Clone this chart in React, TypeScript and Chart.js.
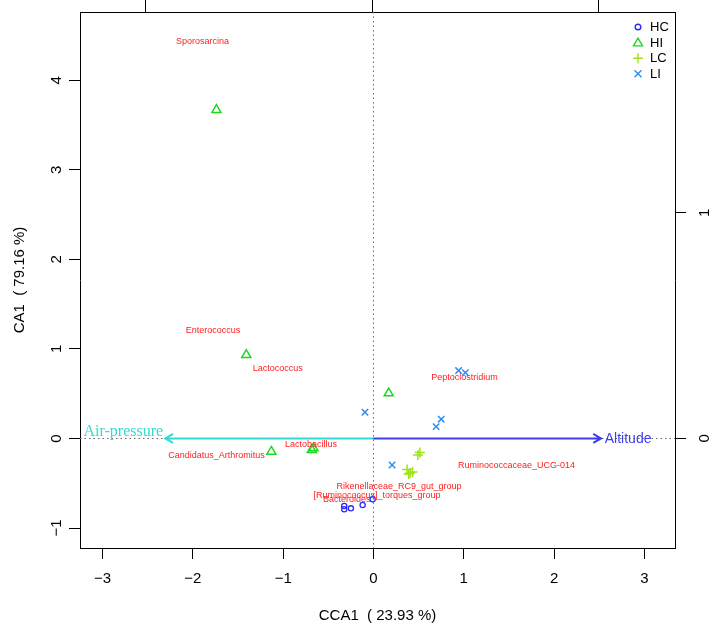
import React, { useEffect, useRef } from 'react';
import { Chart, registerables } from 'chart.js';
Chart.register(...registerables);

// ---- data ----
const groupNames = ['HC', 'HI', 'LC', 'LI'];
const hcX = [-0.324, -0.324, -0.25, -0.12, -0.009];
const hcY = [-0.754, -0.791, -0.78, -0.743, -0.679];
const hiX = [-1.739, -1.409, -1.131, -0.683, -0.664, 0.169];
const hiY = [3.67, 0.933, -0.147, -0.128, -0.109, 0.505];
const lcX = [0.514, 0.492, 0.372, 0.406, 0.433, 0.389];
const lcY = [-0.156, -0.184, -0.346, -0.385, -0.374, -0.397];
const liX = [-0.094, 0.942, 1.017, 0.75, 0.694, 0.206];
const liY = [0.293, 0.758, 0.735, 0.215, 0.132, -0.296];

const speciesNames = [
  'Sporosarcina', 'Enterococcus', 'Lactococcus', 'Peptoclostridium', 'Lactobacillus',
  'Candidatus_Arthromitus', 'Ruminococcaceae_UCG-014', 'Rikenellaceae_RC9_gut_group',
  '[Ruminococcus]_torques_group', 'Bacteroides',
];
const speciesX = [-1.894, -1.778, -1.061, 1.009, -0.691, -1.739, 1.583, 0.283, 0.04, -0.297];
const speciesY = [4.434, 1.201, 0.78, 0.679, -0.073, -0.192, -0.307, -0.539, -0.642, -0.687];

const envNames = ['Air-pressure', 'Altitude'];
const envArrowX = [-2.306, 2.52];
const envArrowY = [0, 0];
const envLabelX = [-2.77, 2.82];
const envLabelY = [0.07, -0.01];

const xTicks = [-3, -2, -1, 0, 1, 2, 3];
const yTicks = [-1, 0, 1, 2, 3, 4];
const topTicks = [-1, 0, 1];
const rightTicks = [0, 1];

const xLabel = 'CCA1  ( 23.93 %)';
const yLabel = 'CA1  ( 79.16 %)';

// ---- styles ----
const SANS = "'Liberation Sans', Arial, Helvetica, sans-serif";
const SERIF = "'Liberation Serif', 'Times New Roman', serif";
const groupColors = ['#2b2bff', '#1ed81e', '#9ee31a', '#2f8cf2'];
const envColors = ['#33dbd4', '#3d3df2'];
const speciesColor = '#ff2020';

const zip = (xs: number[], ys: number[]) => xs.map((x, i) => ({ x, y: ys[i] }));
const lab = (v: any) => String(v).replace('-', '\u2212');

function drawSymbol(ctx: CanvasRenderingContext2D, g: number, x: number, y: number) {
  ctx.save();
  ctx.strokeStyle = groupColors[g];
  ctx.lineWidth = 1.4;
  ctx.beginPath();
  if (g === 0) {
    ctx.arc(x, y, 2.8, 0, Math.PI * 2);
  } else if (g === 1) {
    ctx.moveTo(x, y - 4.5);
    ctx.lineTo(x + 4.5, y + 3.3);
    ctx.lineTo(x - 4.5, y + 3.3);
    ctx.closePath();
  } else if (g === 2) {
    ctx.moveTo(x - 5, y); ctx.lineTo(x + 5, y);
    ctx.moveTo(x, y - 5); ctx.lineTo(x, y + 5);
  } else {
    ctx.moveTo(x - 3.5, y - 3.5); ctx.lineTo(x + 3.5, y + 3.5);
    ctx.moveTo(x + 3.5, y - 3.5); ctx.lineTo(x - 3.5, y + 3.5);
  }
  ctx.stroke();
  ctx.restore();
}

const overlay = {
  id: 'overlay',
  beforeDatasetsDraw(chart: any) {
    const { ctx, chartArea: a, scales } = chart;
    const xs = scales.x, ys = scales.y;
    const x0 = xs.getPixelForValue(0), y0 = ys.getPixelForValue(0);
    ctx.save();
    ctx.strokeStyle = '#666';
    ctx.lineWidth = 1;
    ctx.setLineDash([1.5, 3]);
    ctx.beginPath();
    ctx.moveTo(x0, a.top); ctx.lineTo(x0, a.bottom);
    ctx.moveTo(a.left, y0); ctx.lineTo(a.right, y0);
    ctx.stroke();
    ctx.setLineDash([]);
    // arrows
    envNames.forEach((_, i) => {
      const tx = xs.getPixelForValue(envArrowX[i]);
      const ty = ys.getPixelForValue(envArrowY[i]);
      ctx.strokeStyle = envColors[i];
      ctx.lineWidth = 2;
      ctx.beginPath();
      ctx.moveTo(x0, y0); ctx.lineTo(tx, ty);
      const ang = Math.atan2(ty - y0, tx - x0);
      const L = 9, s = Math.PI / 6;
      ctx.moveTo(tx - L * Math.cos(ang - s), ty - L * Math.sin(ang - s));
      ctx.lineTo(tx, ty);
      ctx.lineTo(tx - L * Math.cos(ang + s), ty - L * Math.sin(ang + s));
      ctx.stroke();
    });
    ctx.restore();
  },
  afterDatasetsDraw(chart: any) {
    const { ctx, chartArea: a, scales } = chart;
    const xs = scales.x, ys = scales.y;
    ctx.save();
    ctx.textAlign = 'center';
    ctx.textBaseline = 'middle';
    ctx.fillStyle = speciesColor;
    ctx.font = `9px ${SANS}`;
    speciesNames.forEach((n, i) => {
      ctx.fillText(n, xs.getPixelForValue(speciesX[i]), ys.getPixelForValue(speciesY[i]));
    });
    // env labels
    ctx.fillStyle = envColors[0];
    ctx.font = `16px ${SERIF}`;
    ctx.fillText(envNames[0], xs.getPixelForValue(envLabelX[0]), ys.getPixelForValue(envLabelY[0]));
    ctx.fillStyle = envColors[1];
    ctx.font = `14px ${SANS}`;
    ctx.fillText(envNames[1], xs.getPixelForValue(envLabelX[1]), ys.getPixelForValue(envLabelY[1]));
    // legend
    ctx.font = `13px ${SANS}`;
    ctx.textAlign = 'left';
    ctx.fillStyle = '#000';
    groupNames.forEach((g, i) => {
      const ly = a.top + 15 + i * 15.6;
      drawSymbol(ctx, i, a.right - 37, ly);
      ctx.fillStyle = '#000';
      ctx.fillText(g, a.right - 25, ly + 0.5);
    });
    ctx.restore();
  },
};

const tickFont = { family: SANS, size: 15 };

const noPad = (s: any) => { s.paddingTop = 0; s.paddingBottom = 0; s.paddingLeft = 0; s.paddingRight = 0; };

export default function App() {
  const ref = useRef<HTMLCanvasElement>(null);
  useEffect(() => {
    if (!ref.current) return;
    const mk = (vals: number[]) => (s: any) => { s.ticks = vals.map((v) => ({ value: v })); };
    const chart = new Chart(ref.current, {
      type: 'scatter',
      data: {
        datasets: [
          { label: 'HC', data: zip(hcX, hcY), pointStyle: 'circle', pointRadius: 2.6, borderColor: groupColors[0], backgroundColor: 'rgba(0,0,0,0)', borderWidth: 1.3 },
          { label: 'HI', data: zip(hiX, hiY), pointStyle: 'triangle', pointRadius: 5.2, borderColor: groupColors[1], backgroundColor: 'rgba(0,0,0,0)', borderWidth: 1.5 },
          { label: 'LC', data: zip(lcX, lcY), pointStyle: 'cross', pointRadius: 5, borderColor: groupColors[2], backgroundColor: 'rgba(0,0,0,0)', borderWidth: 1.5 },
          { label: 'LI', data: zip(liX, liY), pointStyle: 'crossRot', pointRadius: 4.5, borderColor: groupColors[3], backgroundColor: 'rgba(0,0,0,0)', borderWidth: 1.5 },
        ] as any,
      },
      options: {
        responsive: false,
        animation: false,
        layout: { padding: 0 },
        plugins: { legend: { display: false }, tooltip: { enabled: false } },
        scales: {
          x: {
            type: 'linear', position: 'bottom', min: -3.25, max: 3.339,
            afterBuildTicks: mk(xTicks),
            afterFit: (s: any) => { s.height = 81; noPad(s); },
            grid: { drawOnChartArea: false, tickLength: 11, color: '#000', tickColor: '#000' },
            border: { display: true, color: '#000', width: 1 },
            ticks: { callback: lab, font: tickFont, color: '#000', padding: 11, maxRotation: 0, autoSkip: false },
            title: { display: true, text: xLabel, font: tickFont, color: '#000', padding: 4 },
          },
          y: {
            type: 'linear', position: 'left', min: -1.223, max: 4.762,
            afterBuildTicks: mk(yTicks),
            afterFit: (s: any) => { s.width = 80; noPad(s); },
            grid: { drawOnChartArea: false, tickLength: 11, color: '#000', tickColor: '#000' },
            border: { display: true, color: '#000', width: 1 },
            ticks: { callback: lab, font: tickFont, color: '#000', padding: 4, minRotation: 90, maxRotation: 90, crossAlign: 'center', autoSkip: false },
            title: { display: true, text: yLabel, font: tickFont, color: '#000', padding: 11 },
          },
          x2: {
            type: 'linear', position: 'top', min: -1.291, max: 1.336,
            afterBuildTicks: mk(topTicks),
            afterFit: (s: any) => { s.height = 12; noPad(s); },
            grid: { drawOnChartArea: false, tickLength: 12, color: '#000', tickColor: '#000' },
            border: { display: true, color: '#000', width: 1 },
            ticks: { display: false },
          },
          y2: {
            type: 'linear', position: 'right', min: -0.486, max: 1.89,
            afterBuildTicks: mk(rightTicks),
            afterFit: (s: any) => { s.width = 39; noPad(s); },
            grid: { drawOnChartArea: false, tickLength: 11, color: '#000', tickColor: '#000' },
            border: { display: true, color: '#000', width: 1 },
            ticks: { callback: lab, font: tickFont, color: '#000', padding: 15, minRotation: 90, maxRotation: 90, crossAlign: 'center', autoSkip: false },
          },
        } as any,
      },
      plugins: [overlay],
    });
    return () => chart.destroy();
  }, []);
  return (
    <div style={{ position: 'absolute', left: 0, top: 0, width: 714, height: 629, background: '#fff' }}>
      <canvas ref={ref} width={714} height={629} style={{ display: 'block' }} />
    </div>
  );
}
